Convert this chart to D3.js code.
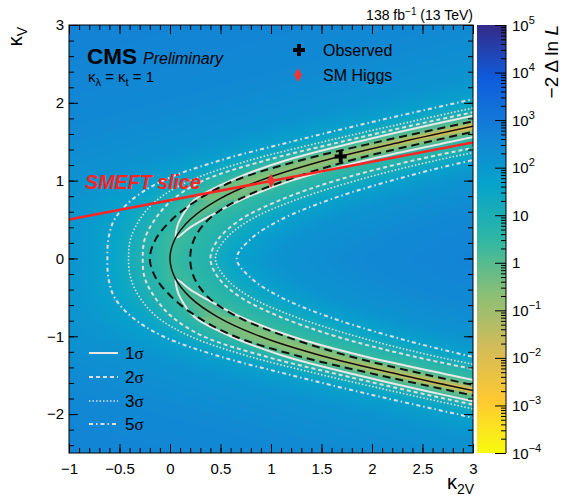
<!DOCTYPE html>
<html>
<head>
<meta charset="utf-8">
<script src="https://cdn.jsdelivr.net/npm/d3@7"></script>
<style>
  body { margin: 0; background: #fff; }
  text { font-family: "Liberation Sans", Arial, sans-serif; }
</style>
</head>
<body>
<svg id="chart" width="564" height="496"></svg>
<script>
// ---- data ----
// rows of |kappa_V|; each contour gives its kappa_2V position on that row (upper branch, mirrored below)
const kvRows  = [0, 0.25, 0.5, 0.75, 1.0, 1.25, 1.5, 1.75, 2.0, 2.25];
const bestFit = [0, 0.05, 0.2, 0.47, 0.89, 1.5, 2.3, 3.19, 4.14, 5.1];
const bestVal = [2.2, 1.8, 1.0, 0.45, 0.22, 0.1, 0.02, 0.002, 0.001, 0.001];
const dashOut = [-0.2, -0.14, 0.02, 0.27, 0.64, 1.26, 2.07, 2.96, 3.89, 4.83];
const dashIn  = [0.2, 0.24, 0.38, 0.67, 1.14, 1.76, 2.56, 3.45, 4.41, 5.38];
const sig2Out = [-0.27, -0.25, -0.15, 0.02, 0.33, 0.92, 1.7, 2.54, 3.44, 4.35];
const sig2In  = [0.4, 0.48, 0.7, 1.09, 1.64, 2.38, 3.3, 4.24, 5.24, 6.25];
const sig3Out = [-0.41, -0.39, -0.3, -0.13, 0.2, 0.76, 1.52, 2.36, 3.24, 4.15];
const sig3In  = [0.45, 0.55, 0.8, 1.24, 1.84, 2.6, 3.55, 4.5, 5.49, 6.5];
const sig5Out = [-0.62, -0.61, -0.55, -0.38, -0.07, 0.47, 1.2, 1.99, 2.84, 3.7];
const sig5In  = [0.66, 0.8, 1.1, 1.57, 2.19, 2.95, 3.9, 4.88, 5.89, 6.9];
// 1 sigma exists only on the branches
const sig1Rows = [0.27, 0.4, 0.5, 0.75, 1.0, 1.25, 1.5, 1.75, 2.0];
const sig1Out  = [0.06, 0.07, 0.1, 0.24, 0.6, 1.12, 1.86, 2.7, 3.6];
const sig1In   = [0.06, 0.2, 0.33, 0.7, 1.2, 1.9, 2.78, 3.68, 4.6];
// -2 dlnL at the contours, and far from the band (gap in units of 5 sigma band width)
const levelVal = { s1: 2.3, s2: 7, s3: 18, s5: 50, dash: 0.5 };
const farGap = [0.3, 1, 2.5, 8];
const farVal = [150, 330, 600, 900];

const observed = [[1.69, 1.31]];
const smHiggs = [[1, 1]];
const smeftSlice = [[-1, 0.5], [3, 1.49]];

const xMajor = [-1, -0.5, 0, 0.5, 1, 1.5, 2, 2.5, 3];
const xMinor = d3.range(-10, 31).map(i => i / 10);
const yMajor = [-2, -1, 0, 1, 2, 3];
const yMinor = d3.range(-12, 16).map(i => i / 5);
const cbDecades = d3.range(-4, 6);

const birdColors = ["#352a87", "#0f5cdd", "#1481d6", "#06a4ca", "#2eb7a4",
                    "#87bf77", "#d1bb59", "#fec832", "#f9fb0e"];

// ---- layout ----
const svg = d3.select("#chart");
const px0 = 69, px1 = 473, py0 = 25, py1 = 453;
const x = d3.scaleLinear([-1, 3], [px0, px1]);
const y = d3.scaleLinear([-2.5, 3], [py1, py0]);
const color = d3.scaleSequentialLog([1e5, 1e-4], d3.piecewise(d3.interpolateRgb, birdColors)).clamp(true);
const cbY = d3.scaleLog([1e-4, 1e5], [py1, py0]);

// ---- heat map ----
const at = arr => d3.scaleLinear(kvRows, arr);
const rowFns = {
  b: at(bestFit), bl: at(bestVal.map(Math.log10)),
  dO: at(dashOut), dI: at(dashIn),
  s2o: at(sig2Out), s2i: at(sig2In), s3o: at(sig3Out), s3i: at(sig3In),
  s5o: at(sig5Out), s5i: at(sig5In),
  s1o: d3.scaleLinear(sig1Rows, sig1Out), s1i: d3.scaleLinear(sig1Rows, sig1In)
};

function rowScale(kv) {
  const a = Math.abs(kv);
  const f = {};
  for (const k in rowFns) f[k] = rowFns[k](a);
  const width = f.s5i - f.s5o;
  const pos = [], val = [];
  const push = (p, lv) => {
    if (pos.length && p <= pos[pos.length - 1]) return;
    pos.push(p); val.push(lv);
  };
  const L = Math.log10;
  for (let i = farGap.length - 1; i >= 0; i--) push(f.s5o - farGap[i] * width, L(farVal[i]));
  push(f.s5o, L(levelVal.s5)); push(f.s3o, L(levelVal.s3)); push(f.s2o, L(levelVal.s2));
  if (a >= 0.3) push(f.s1o, L(levelVal.s1));
  if (a >= 0.75) push(f.dO, L(levelVal.dash));
  push(f.b, f.bl);
  if (a >= 0.75) push(f.dI, L(levelVal.dash));
  if (a >= 0.3) push(f.s1i, L(levelVal.s1));
  push(f.s2i, L(levelVal.s2)); push(f.s3i, L(levelVal.s3)); push(f.s5i, L(levelVal.s5));
  for (let i = 0; i < farGap.length; i++) push(f.s5i + farGap[i] * width, L(farVal[i]));
  return d3.scaleLinear(pos, val);
}

const cw = px1 - px0, ch = py1 - py0;
const canvas = document.createElement("canvas");
canvas.width = cw; canvas.height = ch;
const ctx = canvas.getContext("2d");
const img = ctx.createImageData(cw, ch);
const lut = d3.range(0, 901).map(i => d3.rgb(color(Math.pow(10, -4 + i / 100))));
for (let j = 0; j < ch; j++) {
  const s = rowScale(y.invert(py0 + j + 0.5));
  for (let i = 0; i < cw; i++) {
    const lv = Math.max(-4, Math.min(5, s(x.invert(px0 + i + 0.5))));
    const c = lut[Math.round((lv + 4) * 100)];
    const o = (j * cw + i) * 4;
    img.data[o] = c.r; img.data[o + 1] = c.g; img.data[o + 2] = c.b; img.data[o + 3] = 255;
  }
}
ctx.putImageData(img, 0, 0);
svg.append("image")
  .attr("x", px0).attr("y", py0).attr("width", cw).attr("height", ch)
  .attr("preserveAspectRatio", "none")
  .attr("href", canvas.toDataURL());

svg.append("clipPath").attr("id", "plotClip")
  .append("rect").attr("x", px0).attr("y", py0).attr("width", cw).attr("height", ch);

// ---- contour lines ----
const lineGen = d3.line().x(d => x(d[0])).y(d => y(d[1])).curve(d3.curveCatmullRom.alpha(0.5));
const uShape = vals => kvRows.map((k, i) => [vals[i], -k]).reverse()
  .concat(kvRows.map((k, i) => [vals[i], k]).slice(1));
const sig1Branch = sign => sig1Rows.map((k, i) => [sig1Out[i], sign * k]).reverse()
  .concat(sig1Rows.map((k, i) => [sig1In[i], sign * k]).slice(1));

const styles = {
  s5: { stroke: "#dedede", width: 2, dash: "4,3,1.5,3" },
  s3: { stroke: "#dedede", width: 1.6, dash: "1.5,2" },
  s2: { stroke: "#dedede", width: 2, dash: "4,3" },
  s1: { stroke: "#e8e8e8", width: 2, dash: null },
  dash: { stroke: "#111", width: 2, dash: "8,5" },
  best: { stroke: "#111", width: 1.5, dash: null }
};
const lines = [
  { pts: uShape(sig5Out), st: styles.s5 }, { pts: uShape(sig5In), st: styles.s5 },
  { pts: uShape(sig3Out), st: styles.s3 }, { pts: uShape(sig3In), st: styles.s3 },
  { pts: uShape(sig2Out), st: styles.s2 }, { pts: uShape(sig2In), st: styles.s2 },
  { pts: sig1Branch(1), st: styles.s1 }, { pts: sig1Branch(-1), st: styles.s1 },
  { pts: uShape(dashOut), st: styles.dash }, { pts: uShape(dashIn), st: styles.dash },
  { pts: uShape(bestFit), st: styles.best }
];
const plot = svg.append("g").attr("clip-path", "url(#plotClip)");
plot.selectAll("path.contour").data(lines).join("path")
  .attr("class", "contour")
  .attr("d", d => lineGen(d.pts))
  .attr("fill", "none")
  .attr("stroke", d => d.st.stroke)
  .attr("stroke-width", d => d.st.width)
  .attr("stroke-dasharray", d => d.st.dash);

// SMEFT slice
plot.append("path")
  .attr("d", d3.line().x(d => x(d[0])).y(d => y(d[1]))(smeftSlice))
  .attr("stroke", "#ff2424").attr("stroke-width", 2.5).attr("fill", "none");

const crossPath = "M-6,0H6M0,-6V6";
const diamondPath = "M0,-7L3.8,0L0,7L-3.8,0Z";
plot.selectAll("path.sm").data(smHiggs).join("path").attr("class", "sm")
  .attr("transform", d => `translate(${x(d[0])},${y(d[1])})`)
  .attr("d", diamondPath).attr("fill", "#ff3030");
plot.selectAll("path.obs").data(observed).join("path").attr("class", "obs")
  .attr("transform", d => `translate(${x(d[0])},${y(d[1])})`)
  .attr("d", crossPath).attr("stroke", "#000").attr("stroke-width", 3.8);

const smeftText = svg.append("text").attr("x", 85).attr("y", 189)
  .attr("font-family", "'Open Sans', sans-serif").attr("font-style", "italic")
  .attr("font-weight", 600)
  .attr("font-size", 21).attr("fill", "#ff2424").text("SMEFT slice");
const tl = smeftText.node().getComputedTextLength();
smeftText.attr("font-size", 21 * 116 / tl);

// ---- axes ----
function tickAxis(axisFn, scale, values, size, tr, fmt, pad) {
  const a = axisFn(scale).tickValues(values).tickSizeInner(-size).tickSizeOuter(0)
    .tickPadding(pad || 3).tickFormat(fmt || "");
  const g = svg.append("g").attr("transform", tr).call(a);
  g.select(".domain").remove();
  g.attr("font-family", "'Liberation Sans', Arial, sans-serif").attr("font-size", 15);
  g.selectAll("line").attr("stroke", "#000");
  g.selectAll("text").attr("fill", "#000");
  return g;
}
const fmt = d3.format("~g");
tickAxis(d3.axisBottom, x, xMinor, 5, `translate(0,${py1})`);
tickAxis(d3.axisBottom, x, xMajor, 9, `translate(0,${py1})`, fmt, 10);
tickAxis(d3.axisTop, x, xMinor, 5, `translate(0,${py0})`);
tickAxis(d3.axisTop, x, xMajor, 9, `translate(0,${py0})`);
tickAxis(d3.axisLeft, y, yMinor, 5, `translate(${px0},0)`);
tickAxis(d3.axisLeft, y, yMajor, 9, `translate(${px0},0)`, fmt, 5);
tickAxis(d3.axisRight, y, yMinor, 5, `translate(${px1},0)`);
tickAxis(d3.axisRight, y, yMajor, 9, `translate(${px1},0)`);

svg.append("rect").attr("x", px0).attr("y", py0).attr("width", cw).attr("height", ch)
  .attr("fill", "none").attr("stroke", "#000").attr("stroke-width", 1);

// axis titles
const xt = svg.append("text").attr("x", 474).attr("y", 489).attr("text-anchor", "end").attr("font-size", 20);
xt.append("tspan").text("κ");
xt.append("tspan").attr("font-size", 14).attr("dy", 5).text("2V");
const yt = svg.append("text").attr("transform", "translate(22,27) rotate(-90)")
  .attr("text-anchor", "end").attr("font-size", 20);
yt.append("tspan").text("κ");
yt.append("tspan").attr("font-size", 14).attr("dy", 5).text("V");

// ---- colour bar ----
const cbx0 = 477, cbx1 = 506;
const grad = svg.append("defs").append("linearGradient").attr("id", "cbGrad")
  .attr("x1", 0).attr("y1", 1).attr("x2", 0).attr("y2", 0);
grad.selectAll("stop").data(d3.range(0, 91)).join("stop")
  .attr("offset", d => d / 90)
  .attr("stop-color", d => color(Math.pow(10, -4 + d / 10)));
svg.append("rect").attr("x", cbx0).attr("y", py0).attr("width", cbx1 - cbx0).attr("height", ch)
  .attr("fill", "url(#cbGrad)");
const cbMinor = [];
cbDecades.slice(0, -1).forEach(d => { for (let m = 2; m < 10; m++) cbMinor.push(m * Math.pow(10, d)); });
tickAxis(d3.axisRight, cbY, cbMinor, 5, `translate(${cbx1},0)`);
tickAxis(d3.axisRight, cbY, cbDecades.map(d => Math.pow(10, d)), 11, `translate(${cbx1},0)`);
svg.append("line").attr("x1", cbx1).attr("x2", cbx1).attr("y1", py0).attr("y2", py1)
  .attr("stroke", "#000").attr("stroke-width", 1);

const cbLab = svg.selectAll("text.cblab").data(cbDecades).join("text").attr("class", "cblab")
  .attr("x", 512).attr("y", d => cbY(Math.pow(10, d)) + 5.5).attr("font-size", 15);
cbLab.append("tspan").text(d => d === 0 ? "1" : "10");
cbLab.filter(d => d !== 0 && d !== 1).append("tspan")
  .attr("font-size", 11).attr("dy", -7).text(d => fmt(d));

const cbt = svg.append("text").attr("transform", "translate(558,25) rotate(-90)")
  .attr("text-anchor", "end").attr("font-size", 19);
cbt.append("tspan").text("−2 Δ ln ");
cbt.append("tspan").attr("font-style", "italic").text("L");

// ---- labels ----
const lumi = svg.append("text").attr("x", 473).attr("y", 20).attr("text-anchor", "end").attr("font-size", 14);
lumi.append("tspan").text("138 fb");
lumi.append("tspan").attr("font-size", 10).attr("dy", -5).text("−1");
lumi.append("tspan").attr("dy", 5).text(" (13 TeV)");

svg.append("text").attr("x", 87).attr("y", 64).attr("font-size", 22.5).attr("font-weight", "bold").text("CMS");
svg.append("text").attr("x", 143).attr("y", 64).attr("font-size", 16).attr("font-style", "italic").text("Preliminary");
const kl = svg.append("text").attr("x", 88).attr("y", 82).attr("font-size", 15);
kl.append("tspan").text("κ");
kl.append("tspan").attr("font-size", 11).attr("dy", 4).text("λ");
kl.append("tspan").attr("dy", -4).text(" = κ");
kl.append("tspan").attr("font-size", 11).attr("dy", 4).text("t");
kl.append("tspan").attr("dy", -4).text(" = 1");

// top legend
svg.append("path").attr("transform", "translate(299,50)").attr("d", crossPath)
  .attr("stroke", "#000").attr("stroke-width", 3.8);
svg.append("text").attr("x", 323).attr("y", 56).attr("font-size", 16).text("Observed");
svg.append("path").attr("transform", "translate(298,75)").attr("d", diamondPath).attr("fill", "#ff3030");
svg.append("text").attr("x", 323).attr("y", 81).attr("font-size", 16).text("SM Higgs");

// sigma legend
const sigLegend = [
  { label: "1", st: styles.s1, y: 353 }, { label: "2", st: styles.s2, y: 377 },
  { label: "3", st: styles.s3, y: 401 }, { label: "5", st: styles.s5, y: 424 }
];
const lg = svg.selectAll("g.sleg").data(sigLegend).join("g").attr("class", "sleg");
lg.append("line").attr("x1", 89).attr("x2", 118).attr("y1", d => d.y).attr("y2", d => d.y)
  .attr("stroke", d => d.st.stroke).attr("stroke-width", d => d.st.width)
  .attr("stroke-dasharray", d => d.st.dash);
const lt = lg.append("text").attr("x", 125).attr("y", d => d.y + 6).attr("font-size", 17);
lt.append("tspan").text(d => d.label);
lt.append("tspan").attr("font-family", "'Liberation Serif', serif").text("σ");
</script>
</body>
</html>
